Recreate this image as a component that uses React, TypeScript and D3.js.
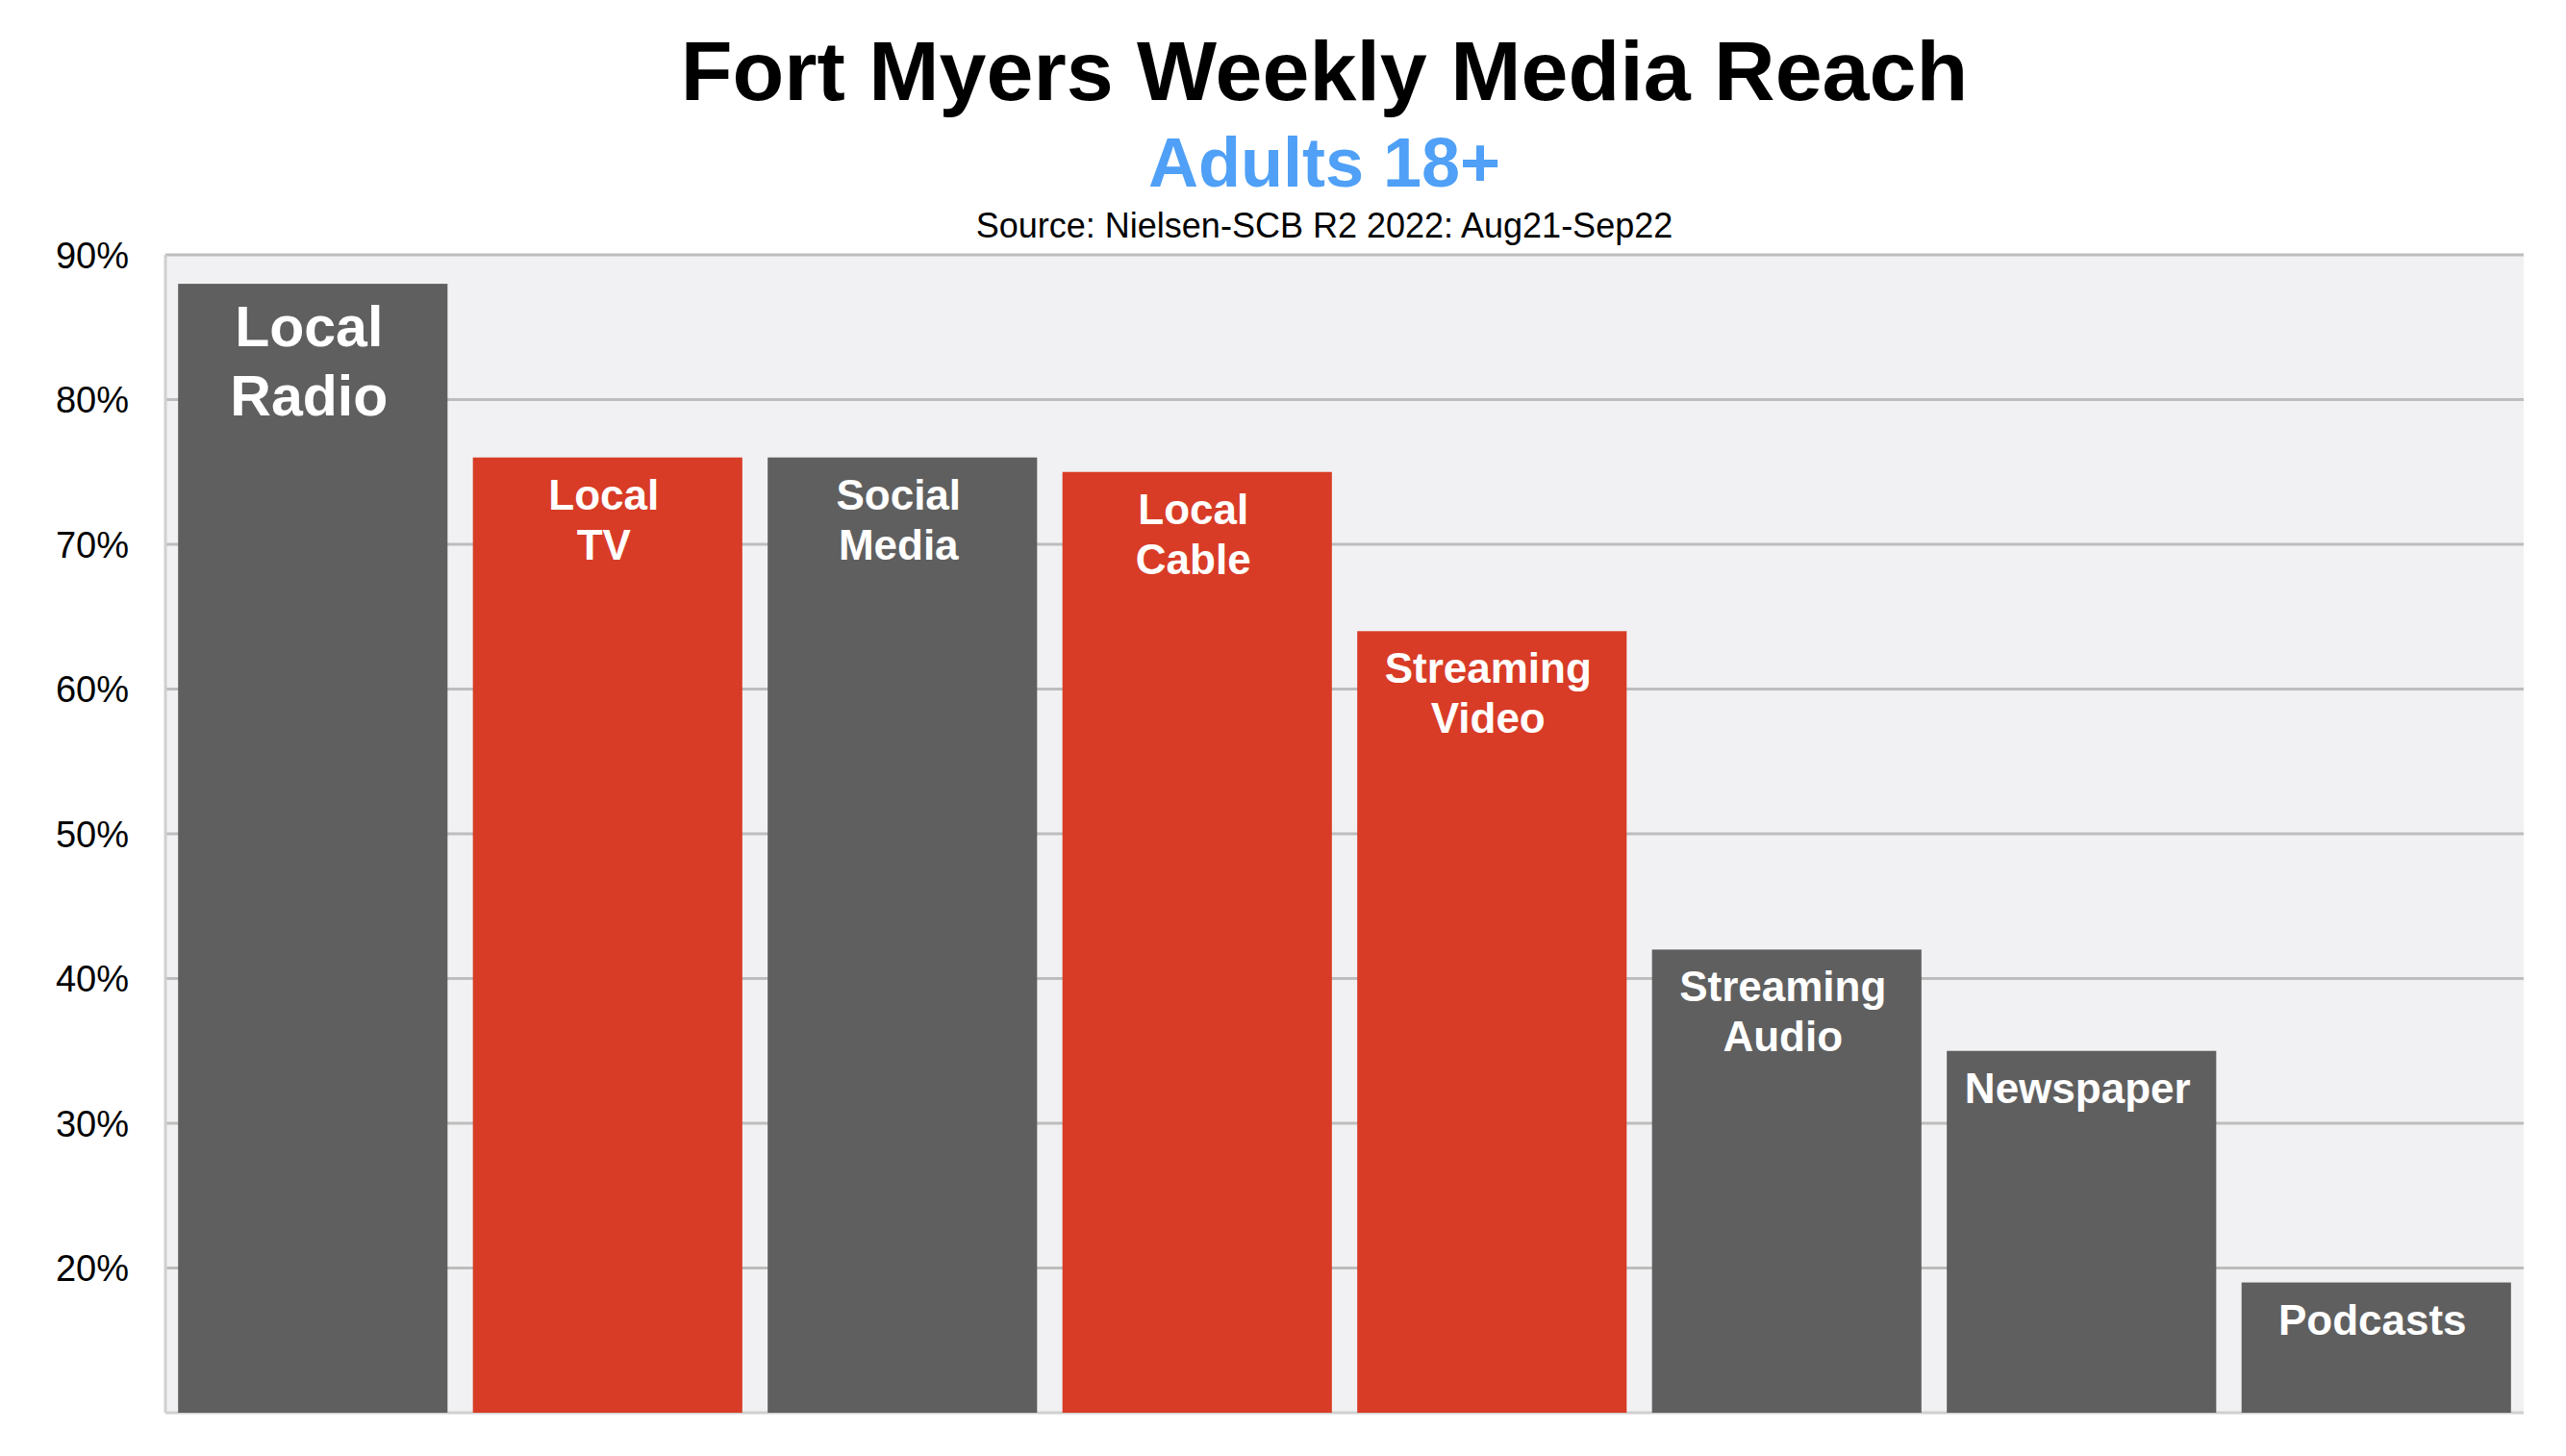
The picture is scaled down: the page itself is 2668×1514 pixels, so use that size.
import React, { useEffect } from "react";
import * as d3 from "d3";

// Chart data
const CATEGORIES = [
    "Local Radio",
    "Local TV",
    "Social Media",
    "Local Cable",
    "Streaming Video",
    "Streaming Audio",
    "Newspaper",
    "Podcasts",
];
const REACH = [88, 76, 76, 75, 64, 42, 35, 19];
const LABEL_LINES = [
    ["Local", "Radio"],
    ["Local", "TV"],
    ["Social", "Media"],
    ["Local", "Cable"],
    ["Streaming", "Video"],
    ["Streaming", "Audio"],
    ["Newspaper"],
    ["Podcasts"],
];
const HIGHLIGHTED = ["Local TV", "Local Cable", "Streaming Video"];
const Y_TICKS = [20, 30, 40, 50, 60, 70, 80, 90];

const TITLE = "Fort Myers Weekly Media Reach";
const SUBTITLE = "Adults 18+";
const SOURCE = "Source: Nielsen-SCB R2 2022: Aug21-Sep22";

const WIDTH = 2668;
const HEIGHT = 1514;
const margin = { top: 265, right: 44, bottom: 45, left: 172 };
const FONT = "'Liberation Sans', Arial, Helvetica, sans-serif";

const GRAY = "#5f5f5f";
const RED = "#d83c26";

export default function App() {
    useEffect(() => {
        document.body.style.margin = "0";
    }, []);

    const innerWidth = WIDTH - margin.left - margin.right;
    const innerHeight = HEIGHT - margin.top - margin.bottom;

    const x = d3.scaleBand<string>()
        .domain(CATEGORIES)
        .range([0, innerWidth])
        .paddingInner(0.086)
        .paddingOuter(0.043);

    const y = d3.scaleLinear().domain([10, 90]).range([innerHeight, 0]);

    const centerX = 1377;

    return (
        <svg width={WIDTH} height={HEIGHT} style={{ display: "block", background: "#fff" }} fontFamily={FONT}>
            {/* titles */}
            <text x={centerX} y={104} textAnchor="middle" fontSize={88} fontWeight="bold" fill="#000">
                {TITLE}
            </text>
            <text x={centerX} y={194} textAnchor="middle" fontSize={72} fontWeight="bold" fill="#4fa0f6">
                {SUBTITLE}
            </text>
            <text x={centerX} y={247} textAnchor="middle" fontSize={36} fill="#000">
                {SOURCE}
            </text>

            <g transform={`translate(${margin.left},${margin.top})`}>
                {/* plot background */}
                <rect x={0} y={0} width={innerWidth} height={innerHeight} fill="#f1f1f3" />

                {/* grid lines */}
                {Y_TICKS.map(t => (
                    <line key={t} x1={0} x2={innerWidth} y1={y(t)} y2={y(t)} stroke="#bdbdbd" strokeWidth={3} />
                ))}

                {/* y tick labels */}
                {Y_TICKS.map(t => (
                    <text key={t} x={-38} y={y(t)} dy="0.36em" textAnchor="end" fontSize={38} fill="#000">
                        {`${t}%`}
                    </text>
                ))}

                {/* axes */}
                <line x1={0} x2={0} y1={0} y2={innerHeight} stroke="#d0d0d0" strokeWidth={3} />
                <line x1={0} x2={innerWidth} y1={innerHeight} y2={innerHeight} stroke="#d0d0d0" strokeWidth={3} />

                {/* bars */}
                {CATEGORIES.map((c, i) => (
                    <rect
                        key={c}
                        x={x(c)}
                        y={y(REACH[i])}
                        width={x.bandwidth()}
                        height={innerHeight - y(REACH[i])}
                        fill={HIGHLIGHTED.includes(c) ? RED : GRAY}
                    />
                ))}

                {/* labels inside bars */}
                {CATEGORIES.map((c, i) => {
                    const big = i === 0;
                    const fs = big ? 59 : 44;
                    const first = big ? 65 : 54;
                    const lh = big ? 72 : 52;
                    const cx = (x(c) ?? 0) + x.bandwidth() / 2 - 4;
                    return (
                        <text key={c} textAnchor="middle" fontSize={fs} fontWeight="bold" fill="#fff">
                            {LABEL_LINES[i].map((line, j) => (
                                <tspan key={j} x={cx} y={y(REACH[i]) + first + j * lh}>
                                    {line}
                                </tspan>
                            ))}
                        </text>
                    );
                })}
            </g>
        </svg>
    );
}
